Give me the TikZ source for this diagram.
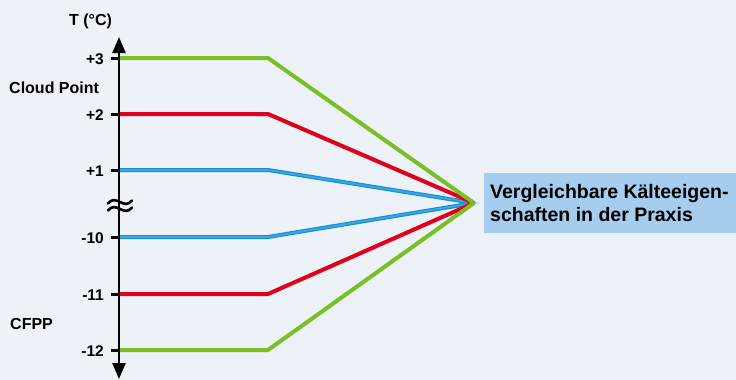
\documentclass[tikz,border=0pt]{standalone}
\usepackage{fontspec}
\setmainfont{Liberation Sans}
\usetikzlibrary{arrows.meta}
\definecolor{bg}{HTML}{EDF1F8}
\definecolor{boxblue}{HTML}{A6CDEE}
\definecolor{lgreen}{HTML}{7ABF25}
\definecolor{lred}{HTML}{E0001B}
\definecolor{lblue}{HTML}{1690D2}
\definecolor{lbluec}{HTML}{3DA9E3}
\tikzset{
  tick/.style={line width=3pt},
  ticklab/.style={anchor=east, font=\bfseries\fontsize{15.5}{17}\selectfont, inner sep=0pt},
  sidelab/.style={anchor=west, font=\bfseries\fontsize{16}{18}\selectfont, inner sep=0pt},
  gline/.style={line width=4pt, lgreen, line join=round},
  rline/.style={line width=4pt, lred, line join=round},
  bline/.style={line width=4pt, lblue, line join=round},
  brkwave/.style={line width=2.6pt, line cap=round},
}
\begin{document}
\begin{tikzpicture}[x=1pt,y=-1pt]
\fill[bg] (0,0) rectangle (736,380);
\useasboundingbox (0,0) rectangle (736,380);
% convergence point
\coordinate (c) at (474,203);
% colored lines
\coordinate (g1) at (119,58);  \coordinate (g1k) at (268,58);
\coordinate (r1) at (119,114); \coordinate (r1k) at (268,114);
\coordinate (b1) at (119,170); \coordinate (b1k) at (268,170);
\coordinate (b2) at (119,237); \coordinate (b2k) at (268,237);
\coordinate (r2) at (119,294); \coordinate (r2k) at (268,294);
\coordinate (g2) at (119,350); \coordinate (g2k) at (268,350);
\draw[bline] (b1) -- (b1k) -- (c);
\draw[bline] (b2) -- (b2k) -- (c);
\draw[lbluec, line width=1.6pt] (b1) -- (b1k) -- (c) -- (b2k) -- (b2);
\draw[rline] (r1) -- (r1k) -- (c);
\draw[rline] (r2) -- (r2k) -- (c);
\draw[gline] (g1) -- (g1k) -- (c);
\draw[gline] (g2) -- (g2k) -- (c);
% axis
\coordinate (atop) at (119,37);
\coordinate (abot) at (119,379);
\draw[line width=2.4pt, {Triangle[width=13pt,length=16pt]}-{Triangle[width=13pt,length=16pt]}] (abot) -- (atop);
% ticks
\foreach \y/\t in {58/+3,114/+2,170/+1,237/-10,294/-11,350/-12}{
  \draw[tick] (111,\y) -- (119,\y);
  \node[ticklab] at (104,\y+1) {\t};
}
% break symbol (double wave)
\foreach \yy in {202,209}{
  \draw[brkwave] (108,\yy+1.5) .. controls (112,\yy-3.5) and (116,\yy-2) .. (120,\yy)
                 .. controls (124,\yy+2) and (128,\yy+3.5) .. (132,\yy-1.5);
}
% labels
\node[sidelab] (T) at (69,21) {T (°C)};
\node[sidelab] (cp) at (9,88) {Cloud Point};
\node[sidelab] (cfpp) at (10,324) {CFPP};
% result box
\node[fill=boxblue, anchor=north west, minimum width=252pt, minimum height=60pt, inner sep=0pt] (box) at (484,173) {};
\node[anchor=west, align=left, inner sep=0pt, font=\bfseries\fontsize{19.5}{23}\selectfont] (boxtxt) at (490,203) {Vergleichbare Kälteeigen-\\schaften in der Praxis};
\end{tikzpicture}
\end{document}
